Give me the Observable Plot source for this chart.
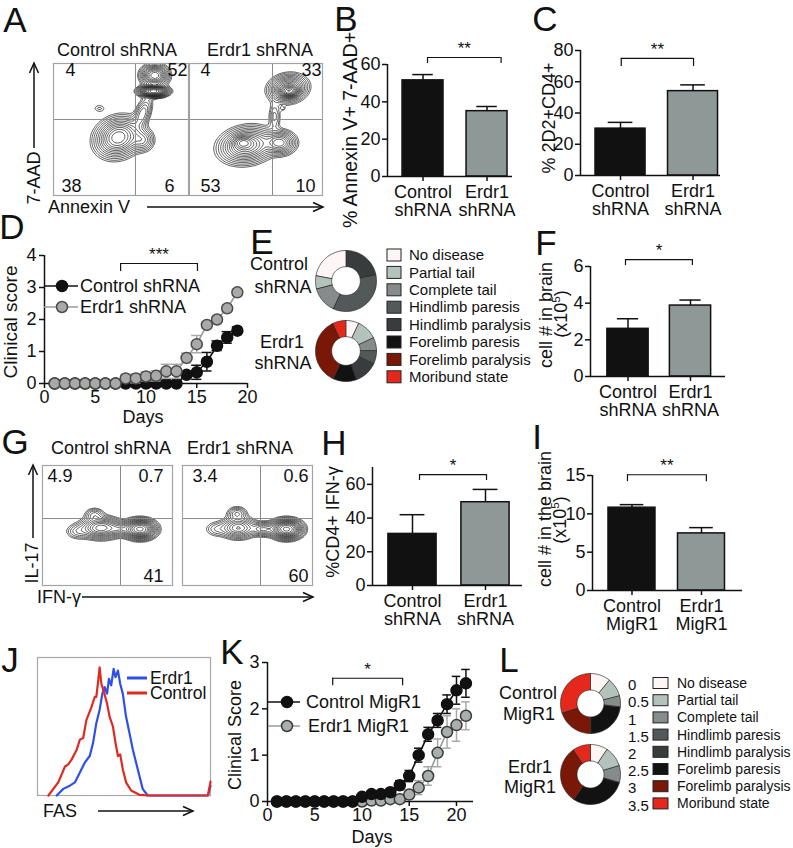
<!DOCTYPE html>
<html><head><meta charset="utf-8">
<script src="https://cdn.jsdelivr.net/npm/d3@7"></script>
<script src="https://cdn.jsdelivr.net/npm/@observablehq/plot@0.6"></script>
<style>
body{margin:0;background:#fff;}
#fig{position:relative;width:793px;height:848px;overflow:hidden;background:#fff;font-family:"Liberation Sans",Arial,Helvetica,sans-serif;}
#fig svg{position:absolute;}
#fig g[aria-label$="tick"]{stroke-width:1.5px;}
#fig .tick line{stroke-width:1.5px;}
</style></head><body><div id="fig"></div>
<script>
// ================= DATA =================
// Disease stages (E, L)
const stages = ["No disease","Partial tail","Complete tail","Hindlimb paresis","Hindlimb paralysis","Forelimb paresis","Forelimb paralysis","Moribund state"];
const stageScores = ["0","0.5","1","1.5","2","2.5","3","3.5"];
const stageColors = ["#fdf5f6","#b4c2bc","#868c8b","#535858","#393c3c","#121212","#7a1808","#e5281c"];

// A: flow quadrants [UL, UR, LL, LR]
const aTitles = ["Control shRNA","Erdr1 shRNA"];
const aQuadControl = [4, 52, 38, 6];
const aQuadErdr1 = [4, 33, 53, 10];
// A density blobs [cx, cy, sx, sy, weight, rotation] (channel units 0-100)
const aBlobsControl = [[48,44,8.5,7,1.0,25],[66,42,4.5,4.5,0.3,0],[66,62,3,7,0.3,-20],[74,79,5,2,2.5,0],[75,91,5,4,1.0,0],[34,66,3,2,0.07,0]];
const aBlobsErdr1 = [[74,81,7,5,0.9,10],[75,79,3.5,2,1.4,0],[43,38,10,6.5,0.9,10],[40,40,4,2.5,0.6,0],[68,40,6,4.5,0.65,0],[64,60,2.5,6,0.15,0],[70,66,1.2,1.2,0.08,0]];

// B
const bCats = ["Control\nshRNA","Erdr1\nshRNA"];
const bValues = [51.5, 35.0];
const bErrors = [3.1, 2.5];
const bTicks = [0,20,40,60];
// C
const cCats = ["Control\nshRNA","Erdr1\nshRNA"];
const cValues = [30, 54];
const cErrors = [4, 4];
const cTicks = [0,20,40,60,80];
// D
const dDays = [1,2,3,4,5,6,7,8,9,10,11,12,13,14,15,16,17,18,19];
const dControl = [0,0,0,0,0,0,0,0,0,0,0,0,0,0.27,0.35,0.68,1.18,1.44,1.65];
const dControlErr = [0,0,0,0,0,0,0,0,0,0,0,0,0,0.08,0.22,0.29,0.15,0.18,0.12];
const dErdr1 = [0,0,0,0,0,0,0,0.16,0.16,0.22,0.24,0.38,0.38,0.8,1.23,1.83,2.0,2.35,2.85];
const dErdr1Err = [0,0,0,0,0,0,0,0.12,0.14,0.14,0.16,0.22,0.22,0.15,0.27,0.1,0.08,0.1,0.1];
const dSeries = ["Control shRNA","Erdr1 shRNA"];
const dXTicks = [0,5,10,15,20];
const dYTicks = [0,1,2,3,4];
// E donuts: [stage, fraction] clockwise from 12 o'clock
const eControl = [["Hindlimb paralysis",0.22],["Hindlimb paresis",0.35],["Complete tail",0.14],["Partial tail",0.07],["No disease",0.22]];
const eErdr1 = [["No disease",0.07],["Partial tail",0.11],["Complete tail",0.07],["Hindlimb paresis",0.07],["Hindlimb paralysis",0.125],["Forelimb paresis",0.125],["Forelimb paralysis",0.36],["Moribund state",0.07]];
// F
const fCats = ["Control\nshRNA","Erdr1\nshRNA"];
const fValues = [2.6, 3.87];
const fErrors = [0.55, 0.3];
const fTicks = [0,2,4,6];
// G
const gTitles = ["Control shRNA","Erdr1 shRNA"];
const gQuadControl = ["4.9","0.7",null,"41"];
const gQuadErdr1 = ["3.4","0.6",null,"60"];
const gBlobsControl = [[45,48,8,4.5,0.8,0],[75,47,6,4,1.6,0],[27,45,5,3.5,0.15,0],[40,59,4,3,0.2,0],[60,47,5,3,0.3,0]];
const gBlobsErdr1 = [[43,48,7,4.5,0.6,0],[80,47,6,4,1.6,0],[26,47,5,3.5,0.12,0],[42,60,4,3,0.25,0],[62,47,5,3,0.4,0]];
// H
const hCats = ["Control\nshRNA","Erdr1\nshRNA"];
const hValues = [30.6, 49.4];
const hErrors = [11.4, 7.6];
const hTicks = [0,20,40,60];
// I
const iCats = ["Control\nMigR1","Erdr1\nMigR1"];
const iValues = [10.8, 7.45];
const iErrors = [0.4, 0.75];
const iTicks = [0,5,10,15];
// J histogram (FAS channel vs % of max)
const jSamples = ["Erdr1","Control"];
const jErdr1X = [111,149,187,216,245,273,302,321,340,359,375,388,402,413,426,440,451,465,478,493,512,532,551,570,589,608,637,985,1000];
const jErdr1Y = [0,4.8,7.1,9.5,16.7,23.8,28.6,38,52.4,62,73.8,78.6,73.8,84.5,79.8,91.7,85.7,90.5,81,73.8,57,45,33.3,23.8,14.3,4.8,0,0,7];
const jControlX = [63,120,159,178,197,226,245,264,283,312,331,340,350,359,369,382,402,417,436,451,465,478,493,512,541,589,646,985,1000];
const jControlY = [0,9.5,21,22.6,26,33,40.5,41.7,54.8,64,71.4,71.4,82,92.9,81,76,66.7,57,50,38,28.6,29.8,19,9.5,3.6,0.5,0,0,10];
// K
const kDays = [1,2,3,4,5,6,7,8,9,10,11,12,13,14,15,16,17,18,19,20,21];
const kControl = [0,0,0,0,0,0,0,0,0,0.1,0.16,0.16,0.2,0.35,0.55,1.0,1.45,1.75,2.1,2.4,2.55];
const kControlErr = [0,0,0,0,0,0,0,0,0,0.05,0.05,0.05,0.08,0.1,0.12,0.15,0.15,0.15,0.2,0.3,0.3];
const kErdr1 = [0,0,0,0,0,0,0,0,0,0,0.02,0.02,0.05,0.05,0.15,0.3,0.55,1.05,1.5,1.65,1.85];
const kErdr1Err = [0,0,0,0,0,0,0,0,0,0.03,0.03,0.03,0.05,0.05,0.1,0.15,0.2,0.3,0.35,0.35,0.3];
const kSeries = ["Control MigR1","Erdr1 MigR1"];
const kXTicks = [0,5,10,15,20];
const kYTicks = [0,1,2,3];
// L donuts
const lControl = [["No disease",0.11],["Partial tail",0.10],["Complete tail",0.06],["Forelimb paresis",0.23],["Forelimb paralysis",0.20],["Moribund state",0.30]];
const lErdr1 = [["No disease",0.094],["Partial tail",0.11],["Complete tail",0.09],["Forelimb paresis",0.30],["Forelimb paralysis",0.31],["Moribund state",0.096]];

// ================= RENDER =================
const FONT = '"Liberation Sans", Arial, Helvetica, sans-serif';
const INK = "#111";
const GRAYBAR = "#8e9897";
const fig = document.getElementById("fig");
const baseStyle = {background:"transparent", overflow:"visible", fontSize:"18px", fontFamily:FONT, color:INK};
const fmt = d => String(d);
function place(el, left, top){ el.style.position="absolute"; el.style.left=left+"px"; el.style.top=top+"px"; el.style.maxWidth="none"; fig.appendChild(el); }

// ---- bar panels ----
function barPanel(cats, vals, errs, ticks, yd, stars, L){
  const rows = cats.map((c,k)=>({i:k+1, cat:c, v:vals[k], e:errs[k]}));
  const [bx1,bx2,by,bdrop] = L.bracket;
  const ax = {stroke:INK, strokeWidth:1.5};
  const p = Plot.plot({
    width:L.w, height:L.h, marginLeft:L.ml, marginTop:L.mt, marginBottom:L.mb, marginRight:L.mr,
    style:baseStyle,
    x:{domain:L.xd, ticks:[1,2], tickFormat:()=>"", tickSize:5, label:null},
    y:{domain:yd, ticks:ticks, tickFormat:fmt, tickSize:5, tickPadding:2, label:null},
    color:{domain:cats, range:[INK, GRAYBAR]},
    marks:[
      Plot.rectY(rows, {x1:d=>d.i-L.half, x2:d=>d.i+L.half, y1:0, y2:"v", fill:"cat", stroke:INK, strokeWidth:1.5}),
      Plot.ruleX(rows, {x:"i", y1:"v", y2:d=>d.v+d.e, ...ax}),
      Plot.ruleY(rows, {y:d=>d.v+d.e, x1:d=>d.i-L.cap, x2:d=>d.i+L.cap, ...ax}),
      Plot.ruleX([L.xd[0]], ax),
      Plot.ruleY([0], ax),
      Plot.ruleY([by], {x1:bx1, x2:bx2, stroke:INK, strokeWidth:1.2}),
      Plot.ruleX([bx1,bx2], {y1:by, y2:bdrop, stroke:INK, strokeWidth:1.2}),
      Plot.text([stars], {x:(bx1+bx2)/2, y:by, text:d=>d, dy:-9, fontSize:17}),
      Plot.text(rows, {x:"i", y:0, text:"cat", lineAnchor:"top", dy:8, fontSize:18, lineHeight:1.02})
    ]
  });
  place(p, L.left, L.top);
}
barPanel(bCats, bValues, bErrors, bTicks, [0,60], "**", {left:330, top:0, w:190, h:230, ml:57, mt:64, mb:54, mr:8, xd:[0.445,2.398], half:0.32, cap:0.16, bracket:[1.07,2.22,63.75,60.5]});
barPanel(cCats, cValues, cErrors, cTicks, [0,80], "**", {left:520, top:0, w:210, h:230, ml:60, mt:50, mb:55, mr:10, xd:[0.448,2.379], half:0.345, cap:0.17, bracket:[1.01,2.007,74.9,69.8]});
barPanel(fCats, fValues, fErrors, fTicks, [0,6], "*", {left:530, top:200, w:205, h:230, ml:60, mt:66, mb:54, mr:10, xd:[0.4,2.56], half:0.33, cap:0.17, bracket:[0.96,2.03,6.38,6.05]});
barPanel(hCats, hValues, hErrors, hTicks, [0,70], "*", {left:320, top:400, w:210, h:250, ml:52, mt:67, mb:65, mr:8, xd:[0.452,2.507], half:0.33, cap:0.17, bracket:[1.096,2.014,65.8,62.3]});
barPanel(iCats, iValues, iErrors, iTicks, [0,15], "**", {left:530, top:400, w:220, h:250, ml:62, mt:75, mb:60, mr:8, xd:[0.432,2.59], half:0.338, cap:0.17, bracket:[0.935,2.07,15.1,14.2]});

// ---- clinical score panels ----
function scorePanel(series, xticks, yticks, stars, L){
  const ax = {stroke:INK, strokeWidth:1.5};
  const [bx1,bx2,by,bdrop] = L.bracket;
  const marks = [Plot.ruleX([L.xd[0]], ax), Plot.ruleY([0], ax)];
  for (const s of series){
    const rows = s.days.map((d,k)=>({day:d, v:s.vals[k], e:s.errs[k], name:s.name}));
    const er = rows.filter(r=>r.e>0);
    const es = {stroke:s.err, strokeWidth:1.5};
    marks.push(
      Plot.ruleX(er, {x:"day", y1:r=>Math.max(0,r.v-r.e), y2:r=>r.v+r.e, ...es}),
      Plot.ruleY(er, {y:r=>r.v+r.e, x1:r=>r.day-L.cap, x2:r=>r.day+L.cap, ...es}),
      Plot.ruleY(er.filter(r=>r.v-r.e>0), {y:r=>r.v-r.e, x1:r=>r.day-L.cap, x2:r=>r.day+L.cap, ...es}),
      Plot.line(rows, {x:"day", y:"v", stroke:s.line, strokeWidth:1.6}),
      Plot.dot(rows, {x:"day", y:"v", r:5.5, fill:"name", stroke:s.edge, strokeWidth:1.5})
    );
  }
  marks.push(
    Plot.ruleY([by], {x1:bx1, x2:bx2, stroke:INK, strokeWidth:1.2}),
    Plot.ruleX([bx1,bx2], {y1:by, y2:bdrop, stroke:INK, strokeWidth:1.2}),
    Plot.text([stars], {x:(bx1+bx2)/2, y:by, text:d=>d, dy:-9, fontSize:17})
  );
  const p = Plot.plot({
    width:L.w, height:L.h, marginLeft:L.ml, marginTop:L.mt, marginBottom:L.mb, marginRight:L.mr,
    style:baseStyle,
    x:{domain:L.xd, ticks:xticks, tickFormat:fmt, tickSize:5, tickPadding:2, label:null},
    y:{domain:L.yd, ticks:yticks, tickFormat:fmt, tickSize:5, tickPadding:3, label:null},
    color:{domain:L.names, range:L.fills},
    marks
  });
  place(p, L.left, L.top);
}
scorePanel([
  {name:dSeries[0], days:dDays, vals:dControl, errs:dControlErr, line:"#111", err:"#111", edge:"#111"},
  {name:dSeries[1], days:dDays, vals:dErdr1, errs:dErdr1Err, line:"#9a9a9a", err:"#a8a8a8", edge:"#4a4a4a"}
], dXTicks, dYTicks, "***", {left:0, top:200, w:257, h:240, ml:44, mt:55, mb:57, mr:10, xd:[0,20], yd:[0,4], cap:0.5, names:dSeries, fills:["#111","#a9a9a9"], bracket:[7.5,15.07,3.75,3.5]});
scorePanel([
  {name:kSeries[1], days:kDays, vals:kErdr1, errs:kErdr1Err, line:"#9a9a9a", err:"#a8a8a8", edge:"#3a3a3a"},
  {name:kSeries[0], days:kDays, vals:kControl, errs:kControlErr, line:"#111", err:"#111", edge:"#111"}
], kXTicks, kYTicks, "*", {left:220, top:640, w:260, h:208, ml:47, mt:22, mb:47, mr:7, xd:[0,21.8], yd:[0,3], cap:0.45, names:kSeries, fills:["#111","#a8afad"], bracket:[6.9,14.3,2.66,2.5]});

// ---- flow cytometry contour panels ----
const TH = [0.04,0.06,0.09,0.13,0.18,0.24,0.31,0.39,0.48,0.58,0.7,0.84,1.0,1.2,1.45,1.75,2.1];
function density(blobs){
  return (x,y)=>{ let s=0; for (const [cx,cy,sx,sy,w,rot] of blobs){ const r=rot*Math.PI/180, c=Math.cos(r), sn=Math.sin(r); const dx=x-cx, dy=y-cy; const u=(dx*c+dy*sn)/sx, v=(-dx*sn+dy*c)/sy; s+=w*Math.exp(-0.5*(u*u+v*v)); } return s; };
}
function flowPanel(blobs, quads, gate, B){
  const corners = ["top-left","top-right","bottom-left","bottom-right"];
  const marks = [
    Plot.contour({x1:0, y1:0, x2:100, y2:100, value:density(blobs), thresholds:TH, fill:"none", stroke:"#1c1c1c", strokeWidth:0.7}),
    Plot.ruleX([gate[0]], {stroke:"#8a8a8a", strokeWidth:1}),
    Plot.ruleY([gate[1]], {stroke:"#8a8a8a", strokeWidth:1}),
    Plot.frame({stroke:"#a3a3a3", strokeWidth:1.2})
  ];
  quads.forEach((q,k)=>{ if (q==null) return;
    marks.push(Plot.text([q], {text:d=>String(d), frameAnchor:corners[k], textAnchor:k%2?"end":"start", lineAnchor:k<2?"top":"bottom", dx:B.dx[k], dy:B.dy[k], fontSize:18, fill:INK}));
  });
  const p = Plot.plot({width:B.w, height:B.h, margin:0, style:baseStyle, x:{domain:[0,100], axis:null}, y:{domain:[0,100], axis:null}, marks});
  place(p, B.left, B.top);
}
flowPanel(aBlobsControl, aQuadControl, [60.7,57.6], {left:53, top:63, w:135, h:132, dx:[12,-1,8,-14], dy:[0,0,-4,-4]});
flowPanel(aBlobsErdr1, aQuadErdr1, [62.4,57.6], {left:189, top:63, w:133, h:132, dx:[11,-1,11,-7], dy:[0,0,-4,-4]});
flowPanel(gBlobsControl, gQuadControl, [60,55.8], {left:42, top:465, w:130, h:120, dx:[5,-9,0,-9], dy:[4,4,-4,-4]});
flowPanel(gBlobsErdr1, gQuadErdr1, [60,55.8], {left:182, top:465, w:130, h:120, dx:[10,-4,0,-4], dy:[4,4,-4,-4]});

// ---- J histogram ----
{
  const rows = [
    ...jErdr1X.map((x,k)=>({ch:x, count:jErdr1Y[k], sample:jSamples[0]})),
    ...jControlX.map((x,k)=>({ch:x, count:jControlY[k], sample:jSamples[1]}))
  ];
  const p = Plot.plot({width:175, height:140, margin:1, style:baseStyle,
    x:{domain:[0,1000], axis:null}, y:{domain:[0,100], axis:null},
    color:{domain:jSamples, range:["#2f4fe8","#df2a22"]},
    marks:[Plot.frame({stroke:"#a8a8a8", strokeWidth:1.2}),
      Plot.line(rows, {x:"ch", y:"count", z:"sample", stroke:"sample", strokeWidth:2.2, curve:"linear"})]});
  place(p, 36, 656);
}

// ---- donuts (E, L) ----
function donut(slices, cx, cy, r, innerFrac){
  let acc = 0; const feats = [];
  for (const [stage, frac] of slices){
    const a0 = acc*2*Math.PI, a1 = (acc+frac)*2*Math.PI; acc += frac;
    const n = Math.max(2, Math.ceil((a1-a0)/(Math.PI/90)));
    const outer = d3.range(n+1).map(k=>{ const a=a0+(a1-a0)*k/n; return [Math.sin(a), -Math.cos(a)]; });
    const inner = outer.map(([x,y])=>[x*innerFrac, y*innerFrac]).reverse();
    feats.push({type:"Feature", properties:{stage}, geometry:{type:"Polygon", coordinates:[[...outer, ...inner, outer[0]]]}});
  }
  const size = 2*r+2;
  const p = Plot.plot({width:size, height:size, margin:0, style:baseStyle,
    projection:{type:"identity", domain:{type:"Polygon", coordinates:[[[-1,-1],[1,-1],[1,1],[-1,1],[-1,-1]]]}, inset:1},
    color:{domain:stages, range:stageColors},
    marks:[Plot.geo(feats, {fill:d=>d.properties.stage, stroke:"#2a2a2a", strokeWidth:0.7})]});
  place(p, cx-size/2, cy-size/2);
}
donut(eControl, 345, 280, 30.5, 0.47);
donut(eErdr1, 345, 350, 30.5, 0.47);
donut(lControl, 590, 703, 30, 0.45);
donut(lErdr1, 590, 774, 30, 0.45);

// ================= OVERLAY TEXT / LEGENDS =================
const NS = "http://www.w3.org/2000/svg";
function el(tag, attrs){ const e=document.createElementNS(NS, tag); for (const k in attrs) e.setAttribute(k, attrs[k]); return e; }
const ov = el("svg", {width:793, height:848, style:"position:absolute;left:0;top:0;overflow:visible;pointer-events:none"});
function T(s, x, y, o={}){
  const size=o.size||18;
  const t=el("text", {x, y:y+0.35*size, "font-size":size, "text-anchor":o.anchor||"middle", fill:o.fill||INK, "font-family":FONT});
  if (o.rot) t.setAttribute("transform", `rotate(${o.rot} ${x} ${y})`);
  if (Array.isArray(s)) { for (const seg of s){ const ts=el("tspan", seg.sup?{"font-size":size*0.65, dy:-size*0.4}:(seg.after?{dy:size*0.4}:{})); ts.textContent=seg.t; t.appendChild(ts);} }
  else t.textContent=s;
  ov.appendChild(t); return t;
}
function Ln(x1,y1,x2,y2,stroke=INK,w=1.5){ ov.appendChild(el("line",{x1,y1,x2,y2,stroke,"stroke-width":w})); }
function arrowH(x1,x2,y){ Ln(x1,y,x2,y); ov.appendChild(el("path",{d:`M${x2-10},${y-4.5}L${x2},${y}L${x2-10},${y+4.5}`, fill:"none", stroke:INK, "stroke-width":1.5})); }
function arrowV(x,y1,y2){ Ln(x,y1,x,y2); ov.appendChild(el("path",{d:`M${x-4.5},${y2+10}L${x},${y2}L${x+4.5},${y2+10}`, fill:"none", stroke:INK, "stroke-width":1.5})); }

// panel letters
[["A",15,20],["B",346,19],["C",545,19],["D",12,227],["E",262,242],["F",546,243],["G",15,442],["H",334,443],["I",537,437],["J",10,660],["K",232,652],["L",509,660]]
  .forEach(([s,x,y])=>T(s,x,y,{size:35}));

// A
T(aTitles[0],117,50); T(aTitles[1],260,50);
T("7-AAD",34,178,{rot:-90}); arrowV(34,148,63);
T("Annexin V",89,207); arrowH(147,323,207);
// B, C
T("% Annexin V+ 7-AAD+",350,130,{rot:-90,size:19.5});
T("% 2D2+CD4+",549,118,{rot:-90});
// D
T("Clinical score",10,322,{rot:-90,size:19});
T("Days",143,417);
Ln(44,286,78,286,"#111"); ov.appendChild(el("circle",{cx:62,cy:286,r:5.5,fill:"#111",stroke:"#111","stroke-width":1.5}));
T(dSeries[0],80,286,{anchor:"start"});
Ln(44,307,78,307,"#9a9a9a"); ov.appendChild(el("circle",{cx:62,cy:307,r:5.5,fill:"#a9a9a9",stroke:"#4a4a4a","stroke-width":1.5}));
T(dSeries[1],80,307,{anchor:"start"});
// E
T("Control",279,264); T("shRNA",283,287); T("Erdr1",282,342); T("shRNA",283,363);
stages.forEach((s,k)=>{ const y=255+17.4*k;
  ov.appendChild(el("rect",{x:387,y:y-6,width:14,height:12,fill:stageColors[k],stroke:"#222","stroke-width":1}));
  T(s,409,y,{anchor:"start",size:15});
});
// F
T("cell # in brain",546,315,{rot:-90});
T([{t:"(x10"},{t:"5",sup:true},{t:")",after:true}],561,314,{rot:-90});
// G
T(gTitles[0],111,448); T(gTitles[1],240,448);
T("IL-17",32,563,{rot:-90}); arrowV(33,538,465);
T("IFN-γ",59,597); arrowH(82,313,597);
// H, I
T("%CD4+ IFN-γ",333,522,{rot:-90});
T("cell # in the brain",545,519,{rot:-90});
T([{t:"(x10"},{t:"5",sup:true},{t:")",after:true}],560,520,{rot:-90});
// J
Ln(127,678,147,678,"#2f4fe8",3); T(jSamples[0],150,678,{anchor:"start",size:17.5});
Ln(127,693,147,693,"#df2a22",3); T(jSamples[1],150,693,{anchor:"start",size:17.5});
T("FAS",60,811); arrowH(98,193,811);
// K
T("Clinical Score",235,735,{rot:-90});
T("Days",372,837);
Ln(268,702,300,702,"#111"); ov.appendChild(el("circle",{cx:287,cy:702,r:5.5,fill:"#111",stroke:"#111","stroke-width":1.5}));
T(kSeries[0],306,702,{anchor:"start"});
Ln(268,726,300,726,"#9a9a9a"); ov.appendChild(el("circle",{cx:287,cy:726,r:5.5,fill:"#a8afad",stroke:"#3a3a3a","stroke-width":1.5}));
T(kSeries[1],308,726,{anchor:"start"});
// L
T("Control",528,693); T("MigR1",529,714); T("Erdr1",530,767); T("MigR1",530,787);
stages.forEach((s,k)=>{ const y=683+17.2*k;
  T(stageScores[k],628,y+2,{anchor:"start",size:15});
  ov.appendChild(el("rect",{x:653,y:y-5.5,width:15,height:11,fill:stageColors[k],stroke:"#222","stroke-width":1}));
  T(s,677,y,{anchor:"start",size:14});
});
fig.appendChild(ov);
</script></body></html>
